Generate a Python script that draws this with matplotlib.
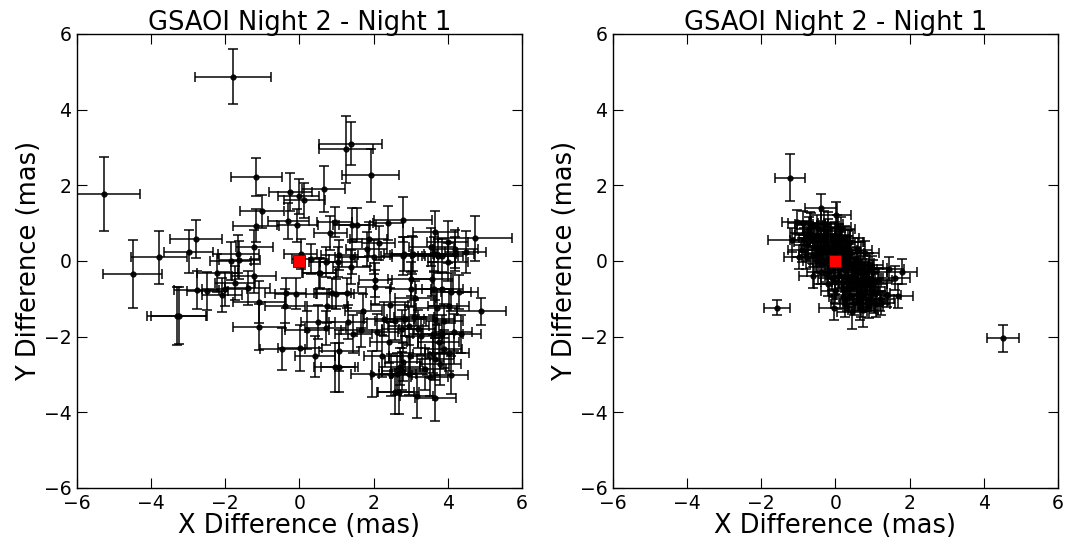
import matplotlib
matplotlib.use("Agg")
import matplotlib.pyplot as plt
import numpy as np

# ---------------- Left panel data ----------------
left_x = [-1.80, -5.26, 1.26, 1.38, 1.92, -1.16, -0.25, -0.02, 0.13, 0.65,
          -1.01, -1.16, -0.30, -0.06, 0.95, 1.41, 1.56, 0.83, 2.39, 2.79,
          1.87, 2.14, 3.67, 4.74, 4.21, 4.00, 3.56, 4.01, 4.48, 3.04,
          2.80, 2.01, 1.81, 1.41, 1.07, 1.05, 1.40, 0.71, 0.30, 0.03,
          0.55, -2.79, -2.99, -3.79, -4.50, -1.85, -1.62, -1.65, -1.22, -1.22,
          -2.21, -1.74, -1.40, -2.02, -2.09, -2.49, -2.77, -3.31, -3.25, -1.09,
          -1.09, -0.37, -0.10, -0.39, 0.53, 0.89, 0.98, 1.29, 0.75, 0.50,
          0.20, 0.71, 1.31, 1.45, 1.67, 1.72, 2.03, 2.05, -0.46, 0.01,
          0.42, 1.07, 1.07, 0.95, 1.95, 2.23, 2.10, 2.41, 2.28, 2.44,
          2.59, 2.77, 2.86, 2.95, 3.09, 3.19, 3.29, 3.00, 3.00, 3.13,
          3.58, 3.64, 3.85, 4.09, 4.31, 3.70, 4.03, 4.91, 3.65, 3.91,
          3.61, 3.85, 4.16, 4.36, 3.76, 3.89, 4.03, 3.61, 3.67, 3.80,
          3.40, 3.52, 4.09, 2.48, 2.64, 2.77, 2.95, 2.71, 2.80, 2.97,
          2.59, 2.68, 3.16, 3.67, 2.82, 3.06, 3.62, 3.74, 3.85, 4.21]
left_y = [4.87, 1.78, 2.95, 3.10, 2.26, 2.23, 1.83, 1.71, 1.60, 1.90,
          1.31, 0.93, 1.05, 0.94, 1.04, 0.95, 0.96, 0.74, 1.01, 1.09,
          0.59, 0.47, 0.76, 0.60, 0.32, 0.50, 0.37, -0.03, 0.24, 0.15,
          0.13, 0.10, 0.32, 0.10, 0.15, -0.03, -0.16, -0.03, 0.06, 0.19,
          -0.31, 0.59, 0.24, 0.10, -0.35, 0.00, 0.02, 0.19, 0.37, -0.40,
          -0.31, -0.57, -0.72, -0.75, -0.91, -0.79, -0.76, -1.45, -1.45, -1.08,
          -1.74, -0.84, -0.86, -1.20, -0.33, -0.84, -0.88, -0.85, -1.19, -1.61,
          -1.82, -1.76, -1.61, -1.93, -1.83, -1.32, -0.70, -0.51, -2.33, -2.30,
          -2.52, -2.37, -2.81, -2.81, -2.99, -2.51, -1.89, -2.15, -1.54, -1.17,
          -1.58, -1.80, -1.54, -1.71, -1.49, -1.80, -1.98, -0.73, -0.48, -0.97,
          -0.48, -0.75, -0.75, -0.82, -0.82, -1.23, -1.19, -1.33, -1.54, -1.58,
          -1.93, -1.93, -1.89, -1.93, -2.15, -2.33, -2.42, -2.46, -2.59, -2.73,
          -2.86, -3.06, -3.02, -3.02, -2.99, -2.90, -2.99, -2.79, -2.68, -2.50,
          -3.45, -3.45, -3.56, -3.62, 0.18, 0.18, 0.18, 0.13, 0.13, 0.18]
left_xerr = [1.02, 0.96, 0.72, 0.85, 0.76, 0.69, 0.58, 0.55, 0.55, 0.58,
             0.60, 0.62, 0.55, 0.55, 0.48, 0.50, 0.50, 0.45, 0.40, 0.78,
             0.50, 0.45, 0.60, 1.00, 0.60, 0.55, 0.60, 0.55, 0.55, 0.60,
             0.60, 0.50, 0.55, 0.45, 0.50, 0.50, 0.50, 0.45, 0.50, 0.45,
             0.45, 0.70, 0.65, 0.76, 0.80, 0.55, 0.55, 0.55, 0.50, 0.60,
             0.55, 0.55, 0.60, 0.60, 0.55, 0.55, 0.60, 0.80, 0.75, 0.70,
             0.70, 0.55, 0.55, 0.55, 0.45, 0.50, 0.50, 0.50, 0.55, 0.45,
             0.60, 0.55, 0.50, 0.50, 0.55, 0.50, 0.45, 0.45, 0.60, 0.60,
             0.55, 0.55, 0.50, 0.55, 0.55, 0.50, 0.55, 0.50, 0.55, 0.50,
             0.55, 0.55, 0.50, 0.55, 0.55, 0.50, 0.55, 0.55, 0.60, 0.55,
             0.55, 0.50, 0.55, 0.55, 0.50, 0.55, 0.55, 0.65, 0.55, 0.50,
             0.55, 0.55, 0.50, 0.55, 0.55, 0.50, 0.55, 0.55, 0.50, 0.55,
             0.55, 0.50, 0.45, 0.55, 0.50, 0.55, 0.50, 0.55, 0.50, 0.55,
             0.50, 0.55, 0.45, 0.55, 0.55, 0.55, 0.60, 0.55, 0.55, 0.50]
left_yerr = [0.73, 0.98, 0.89, 0.57, 0.69, 0.50, 0.50, 0.46, 0.46, 0.60,
             0.44, 0.44, 0.48, 0.44, 0.40, 0.45, 0.45, 0.45, 0.45, 0.60,
             0.45, 0.45, 0.55, 0.60, 0.50, 0.55, 0.50, 0.50, 0.55, 0.50,
             0.50, 0.45, 0.45, 0.45, 0.40, 0.40, 0.45, 0.40, 0.40, 0.40,
             0.40, 0.50, 0.57, 0.70, 0.90, 0.50, 0.50, 0.50, 0.45, 0.45,
             0.50, 0.45, 0.45, 0.45, 0.45, 0.50, 0.50, 0.77, 0.75, 0.55,
             0.60, 0.40, 0.40, 0.45, 0.40, 0.40, 0.40, 0.40, 0.45, 0.45,
             0.50, 0.45, 0.45, 0.50, 0.45, 0.45, 0.45, 0.45, 0.55, 0.60,
             0.55, 0.55, 0.65, 0.65, 0.60, 0.55, 0.50, 0.55, 0.45, 0.45,
             0.50, 0.50, 0.45, 0.50, 0.45, 0.50, 0.50, 0.45, 0.45, 0.45,
             0.45, 0.45, 0.45, 0.50, 0.45, 0.45, 0.45, 0.35, 0.50, 0.45,
             0.50, 0.50, 0.50, 0.50, 0.50, 0.50, 0.50, 0.50, 0.55, 0.55,
             0.55, 0.50, 0.50, 0.55, 0.55, 0.50, 0.55, 0.50, 0.50, 0.50,
             0.60, 0.60, 0.60, 0.60, 0.45, 0.45, 0.45, 0.45, 0.45, 0.45]

# ---------------- Right panel data ----------------
right_x = [-1.22, -1.58, 4.52, -0.40, 0.01, -1.05, -0.87, -0.69, -0.20, -1.16,
           -0.98, 0.99, 1.44, 1.62, 1.80, 1.69, 1.38, 1.22, 0.66, -0.03,
           0.45, 0.75,
           -0.85, -0.70, -0.60, -0.75, -0.50, -0.40, -0.55, -0.30, -0.45, -0.20,
           -0.10, -0.25, -0.35, -0.15, 0.00, 0.10, 0.05, -0.05, 0.15, 0.20,
           0.30, 0.25, 0.10, 0.35, 0.40, 0.45, 0.30, 0.50, 0.55, 0.60,
           0.65, 0.70, 0.75, 0.80, 0.85, 0.90, 0.95, 1.00, 1.05, 1.10,
           1.15, 0.20, 0.40, 0.50, 0.60, -0.60, -0.90, -0.80, -0.20, 0.00,
           0.15, 0.35, -0.30, 0.55, 0.70, 0.30, 0.10, -0.10, 0.45, 0.80,
           1.20, 0.90, -0.45, -0.65, 0.25, 0.00, 0.20, -0.15, 0.60, 0.75,
           -0.60, -0.40, -0.20, 0.00, 0.20, 0.40, 0.60, 0.80, 0.90, 1.00,
           -0.70, -0.50, 0.00, -0.30, 0.35, 0.15, 0.50, 0.65, 1.10, 0.95,
           0.25, -0.10, -0.40, -0.85, 0.05, -0.25, 0.70, 0.85, 0.45, 0.30]
right_y = [2.20, -1.24, -2.04, 1.41, 1.22, 1.04, 1.01, 0.98, 0.98, 0.56,
           0.10, -0.19, -0.21, -0.44, -0.28, -0.92, -0.90, -1.12, -1.23, -1.23,
           -1.35, -1.30,
           0.75, 0.85, 0.60, 0.50, 0.90, 0.70, 0.40, 0.50, 0.20, 0.80,
           0.55, 0.30, 0.05, 0.10, 0.40, 0.65, 0.20, -0.10, -0.05, 0.30,
           0.10, -0.25, -0.40, -0.15, 0.20, -0.40, -0.55, -0.10, -0.60, -0.30,
           -0.80, -0.50, -0.20, -0.70, -1.00, -0.45, -0.80, -0.60, -1.05, -0.85,
           -0.50, -0.75, -0.90, -1.10, -1.00, 0.15, 0.30, 0.10, -0.30, -0.55,
           0.85, 0.50, 1.00, 0.05, -1.15, -1.00, -0.20, 0.30, -0.70, -0.35,
           -1.00, -1.20, 0.55, 0.95, 0.60, 0.00, 0.05, -0.15, -0.55, -0.90,
           -0.40, -0.30, -0.60, -0.80, -0.95, 0.50, 0.30, 0.20, -0.10, -0.30,
           0.70, 0.00, 0.70, -0.05, -0.45, 0.45, -0.25, -0.05, -1.15, -1.00,
           -1.15, -0.45, 0.35, 0.55, 0.90, 0.65, -0.65, -0.55, -0.05, 0.35]
right_xerr = [0.40, 0.35, 0.43, 0.43, 0.40, 0.40, 0.40, 0.40, 0.40, 0.66,
              0.40, 0.40, 0.40, 0.40, 0.40, 0.40, 0.40, 0.40, 0.40, 0.40,
              0.40, 0.40] + [0.38] * 100
right_yerr = [0.62, 0.20, 0.36, 0.36, 0.35, 0.32, 0.32, 0.32, 0.32, 0.32,
              0.32, 0.32, 0.32, 0.32, 0.32, 0.32, 0.32, 0.32, 0.32, 0.32,
              0.45, 0.45] + [0.32] * 100

ref_x = [0.0]
ref_y = [0.0]

titles = ["GSAOI Night 2 - Night 1", "GSAOI Night 2 - Night 1"]
xlabel = "X Difference (mas)"
ylabel = "Y Difference (mas)"
ticks = [-6, -4, -2, 0, 2, 4, 6]

plt.rcParams['font.family'] = ['DejaVu Sans']

fig = plt.figure(figsize=(10.65, 5.48), dpi=100)
ax1 = fig.add_axes([0.0723, 0.1095, 0.4177, 0.8285])
ax2 = fig.add_axes([0.5756, 0.1095, 0.4177, 0.8285])

datasets = [(left_x, left_y, left_xerr, left_yerr),
            (right_x, right_y, right_xerr, right_yerr)]

for ax, (dx, dy, ex, ey), title in zip([ax1, ax2], datasets, titles):
    ax.errorbar(dx, dy, xerr=ex, yerr=ey, fmt='o', color='black',
                ecolor='black', elinewidth=1.2, capsize=3.5, capthick=1.2,
                markersize=3.5, alpha=0.9)
    ax.plot(ref_x, ref_y, 's', color='red', markeredgecolor='#550000',
            markeredgewidth=0.6, markersize=8, zorder=5)
    ax.set_xlim(-6, 6)
    ax.set_ylim(-6, 6)
    ax.set_xticks(ticks)
    ax.set_yticks(ticks)
    ax.tick_params(direction='in', top=True, right=True, length=7,
                   width=0.8, labelsize=13.5, pad=4)
    ax.set_title(title, fontsize=18.5, pad=3)
    ax.set_xlabel(xlabel, fontsize=18.5, labelpad=0)
    ax.set_ylabel(ylabel, fontsize=18.5, labelpad=1)
    for s in ax.spines.values():
        s.set_linewidth(1.0)

fig.savefig("out.png", dpi=100, facecolor='white')
